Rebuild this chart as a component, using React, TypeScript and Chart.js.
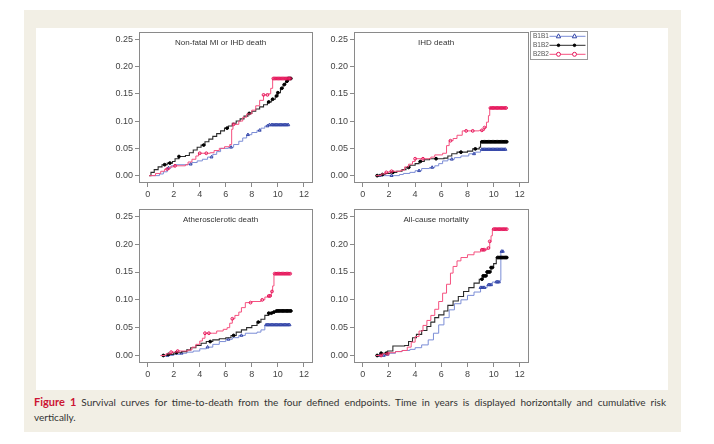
import React, { useEffect, useRef } from "react";
import { Chart, registerables } from "chart.js";
Chart.register(...registerables);

type Pt = [number, number];

const xTicks = [0, 2, 4, 6, 8, 10, 12];
const yTicks = [0, 0.05, 0.1, 0.15, 0.2, 0.25];
const yTickLabels = ["0.00", "0.05", "0.10", "0.15", "0.20", "0.25"];
const seriesNames = ["B1B1", "B1B2", "B2B2"];
const panelTitles = ["Non-fatal MI or IHD death", "IHD death", "Atherosclerotic death", "All-cause mortality"];
const captionLabel = "Figure 1";
const captionText = "Survival curves for time-to-death from the four defined endpoints. Time in years is displayed horizontally and cumulative risk";
const captionText2 = "vertically.";

// Panel 1: Non-fatal MI or IHD death
const nonFatalB1B1: Pt[] = [[0.3, 0], [0.9, 0.003], [1.2, 0.007], [1.5, 0.014], [1.8, 0.018], [2.1, 0.02], [3.1, 0.021], [3.4, 0.024], [3.8, 0.027], [4.2, 0.03], [4.6, 0.034], [5.0, 0.039], [5.3, 0.044], [5.6, 0.05], [6.2, 0.052], [6.6, 0.057], [7.0, 0.063], [7.3, 0.069], [7.6, 0.075], [8.0, 0.079], [8.4, 0.083], [8.7, 0.087], [9.0, 0.091], [9.3, 0.093], [10.9, 0.093]];
const nonFatalB1B2: Pt[] = [[0.1, 0], [0.25, 0.006], [0.5, 0.011], [0.8, 0.016], [1.1, 0.02], [1.5, 0.023], [1.9, 0.026], [2.1, 0.031], [2.4, 0.035], [2.9, 0.037], [3.2, 0.042], [3.5, 0.047], [3.8, 0.052], [4.1, 0.056], [4.4, 0.062], [4.7, 0.067], [5.0, 0.072], [5.3, 0.077], [5.6, 0.082], [5.9, 0.087], [6.2, 0.091], [6.5, 0.096], [6.8, 0.1], [7.1, 0.104], [7.4, 0.109], [7.7, 0.114], [8.0, 0.118], [8.3, 0.122], [8.6, 0.126], [8.9, 0.13], [9.2, 0.135], [9.5, 0.14], [9.8, 0.146], [10.0, 0.152], [10.2, 0.16], [10.4, 0.167], [10.6, 0.173], [10.8, 0.178], [11.0, 0.178]];
const nonFatalB2B2: Pt[] = [[0.1, 0], [0.6, 0.004], [1.0, 0.008], [1.3, 0.012], [1.7, 0.016], [2.0, 0.018], [2.9, 0.02], [3.1, 0.025], [3.4, 0.03], [3.7, 0.036], [3.9, 0.041], [4.8, 0.042], [5.1, 0.046], [5.5, 0.05], [5.9, 0.053], [6.3, 0.057], [6.45, 0.085], [6.55, 0.094], [7.0, 0.1], [7.3, 0.107], [7.6, 0.113], [8.0, 0.12], [8.3, 0.128], [8.6, 0.138], [8.9, 0.148], [9.3, 0.15], [9.45, 0.16], [9.6, 0.178], [11.0, 0.178]];
const nonFatalB1B1Censor = [1.6, 3.3, 4.9, 6.4, 7.7, 8.6, 9.2, 9.35, 9.5, 9.6, 9.7, 9.8, 9.9, 10.0, 10.1, 10.2, 10.3, 10.4, 10.5, 10.6, 10.7, 10.8];
const nonFatalB1B2Censor = [1.3, 1.7, 2.4, 4.3, 6.1, 7.8, 9.3, 9.6, 9.9, 10.0, 10.3, 10.5, 10.7, 10.8, 10.9, 11.0];
const nonFatalB2B2Censor = [1.5, 2.1, 4.0, 4.5, 6.6, 8.9, 9.2, 9.65, 9.75, 9.85, 9.95, 10.05, 10.15, 10.25, 10.35, 10.45, 10.55, 10.65, 10.75, 10.85, 10.95];

// Panel 2: IHD death
const ihdB1B1: Pt[] = [[1.2, 0], [2.8, 0.002], [3.1, 0.004], [3.6, 0.006], [4.0, 0.009], [4.5, 0.013], [5.1, 0.015], [5.5, 0.018], [5.8, 0.022], [6.1, 0.027], [6.5, 0.03], [7.0, 0.033], [7.5, 0.036], [8.1, 0.04], [8.6, 0.043], [9.0, 0.048], [10.9, 0.048]];
const ihdB1B2: Pt[] = [[1.0, 0], [1.3, 0.002], [1.7, 0.004], [2.1, 0.006], [2.6, 0.008], [3.0, 0.011], [3.3, 0.015], [3.6, 0.019], [4.0, 0.022], [4.3, 0.026], [4.7, 0.029], [5.1, 0.031], [6.2, 0.032], [6.5, 0.036], [6.8, 0.04], [7.2, 0.043], [8.0, 0.045], [8.4, 0.049], [8.9, 0.052], [9.0, 0.062], [11.0, 0.062]];
const ihdB2B2: Pt[] = [[1.0, 0], [1.4, 0.003], [1.7, 0.006], [2.0, 0.008], [2.9, 0.01], [3.2, 0.016], [3.5, 0.021], [3.8, 0.026], [4.0, 0.031], [5.2, 0.034], [5.5, 0.038], [6.1, 0.041], [6.4, 0.055], [6.6, 0.064], [6.9, 0.068], [7.2, 0.074], [7.6, 0.082], [8.9, 0.083], [9.3, 0.088], [9.45, 0.098], [9.6, 0.11], [9.7, 0.124], [11.0, 0.124]];
const ihdB1B1Censor = [1.3, 2.2, 4.3, 5.3, 6.8, 8.5, 9.1, 9.2, 9.3, 9.4, 9.5, 9.6, 9.7, 9.8, 9.9, 10.0, 10.1, 10.2, 10.3, 10.4, 10.5, 10.6, 10.7, 10.8, 10.9];
const ihdB1B2Censor = [1.1, 1.5, 2.3, 3.5, 4.4, 5.6, 7.5, 8.6, 9.1, 9.2, 9.3, 9.4, 9.5, 9.6, 9.7, 9.8, 9.9, 10.0, 10.1, 10.2, 10.3, 10.4, 10.5, 10.6, 10.7, 10.8, 10.9, 11.0];
const ihdB2B2Censor = [1.8, 2.2, 4.0, 4.6, 6.7, 7.9, 8.4, 9.1, 9.3, 9.75, 9.85, 9.95, 10.05, 10.15, 10.25, 10.35, 10.45, 10.55, 10.65, 10.75, 10.85, 10.95];

// Panel 3: Atherosclerotic death
const athB1B1: Pt[] = [[1.2, 0], [2.0, 0.002], [2.5, 0.004], [3.0, 0.006], [3.5, 0.008], [4.0, 0.012], [4.5, 0.015], [5.0, 0.02], [5.5, 0.025], [6.0, 0.029], [6.5, 0.032], [7.0, 0.036], [7.5, 0.04], [8.4, 0.042], [8.7, 0.046], [9.0, 0.055], [10.9, 0.055]];
const athB1B2: Pt[] = [[1.0, 0], [1.5, 0.002], [2.0, 0.005], [2.6, 0.007], [3.0, 0.01], [3.3, 0.014], [3.7, 0.018], [4.1, 0.022], [4.5, 0.025], [5.0, 0.028], [5.5, 0.03], [6.0, 0.032], [6.4, 0.036], [6.8, 0.042], [7.2, 0.046], [7.6, 0.05], [8.0, 0.054], [8.4, 0.06], [8.7, 0.065], [9.0, 0.072], [9.3, 0.076], [9.6, 0.078], [9.9, 0.08], [11.0, 0.08]];
const athB2B2: Pt[] = [[1.0, 0], [1.4, 0.003], [1.8, 0.006], [2.2, 0.008], [3.1, 0.01], [3.4, 0.015], [3.7, 0.02], [4.0, 0.026], [4.2, 0.031], [4.4, 0.04], [5.0, 0.04], [5.3, 0.044], [5.8, 0.047], [6.1, 0.05], [6.3, 0.058], [6.5, 0.066], [6.7, 0.072], [7.0, 0.078], [7.2, 0.086], [7.5, 0.095], [8.0, 0.097], [8.7, 0.1], [9.0, 0.105], [9.3, 0.107], [9.5, 0.115], [9.6, 0.125], [9.7, 0.147], [11.0, 0.147]];
const athB1B1Censor = [1.5, 2.6, 4.6, 6.2, 7.2, 9.1, 9.2, 9.3, 9.4, 9.5, 9.6, 9.7, 9.8, 9.9, 10.0, 10.1, 10.2, 10.3, 10.4, 10.5, 10.6, 10.7, 10.8, 10.9];
const athB1B2Censor = [1.2, 1.6, 2.2, 4.8, 6.6, 8.5, 9.3, 9.5, 9.7, 9.9, 10.0, 10.1, 10.2, 10.3, 10.4, 10.5, 10.6, 10.7, 10.8, 10.9, 11.0];
const athB2B2Censor = [1.8, 2.3, 4.4, 4.7, 6.5, 7.9, 8.8, 9.3, 9.4, 9.55, 9.75, 9.85, 9.95, 10.05, 10.15, 10.25, 10.35, 10.45, 10.55, 10.65, 10.75, 10.85, 10.95];

// Panel 4: All-cause mortality
const allB1B1: Pt[] = [[1.2, 0], [2.0, 0.004], [2.5, 0.007], [3.0, 0.009], [3.6, 0.011], [4.0, 0.014], [4.5, 0.019], [5.0, 0.028], [5.4, 0.04], [5.8, 0.055], [6.2, 0.068], [6.6, 0.082], [7.0, 0.093], [7.5, 0.1], [8.0, 0.108], [8.5, 0.114], [9.0, 0.122], [9.5, 0.127], [9.9, 0.132], [10.5, 0.135], [10.55, 0.187], [10.8, 0.187]];
const allB1B2: Pt[] = [[1.0, 0], [1.4, 0.004], [1.9, 0.008], [2.3, 0.017], [3.2, 0.018], [3.5, 0.025], [3.8, 0.032], [4.1, 0.038], [4.5, 0.045], [4.9, 0.052], [5.2, 0.06], [5.5, 0.068], [5.8, 0.073], [6.2, 0.08], [6.5, 0.09], [6.9, 0.098], [7.3, 0.106], [7.7, 0.115], [8.1, 0.122], [8.5, 0.13], [8.9, 0.137], [9.2, 0.143], [9.5, 0.15], [9.8, 0.158], [10.0, 0.165], [10.2, 0.176], [11.0, 0.176]];
const allB2B2: Pt[] = [[1.0, 0], [1.5, 0.003], [2.0, 0.005], [2.5, 0.007], [3.0, 0.009], [3.4, 0.015], [3.7, 0.024], [4.0, 0.034], [4.3, 0.044], [4.6, 0.054], [4.9, 0.063], [5.2, 0.072], [5.5, 0.083], [5.8, 0.097], [6.1, 0.112], [6.4, 0.128], [6.7, 0.148], [6.9, 0.16], [7.2, 0.17], [7.5, 0.176], [8.0, 0.181], [8.5, 0.186], [9.0, 0.19], [9.5, 0.193], [9.7, 0.205], [9.8, 0.215], [9.9, 0.227], [11.0, 0.227]];
const allB1B1Censor = [1.3, 1.6, 9.0, 9.1, 9.2, 9.3, 9.6, 9.7, 9.8, 10.2, 10.3, 10.4, 10.6, 10.7];
const allB1B2Censor = [1.1, 1.4, 1.8, 9.1, 9.2, 9.3, 9.4, 9.5, 9.6, 9.7, 9.8, 9.9, 10.3, 10.4, 10.5, 10.6, 10.7, 10.8, 10.9, 11.0];
const allB2B2Censor = [1.4, 1.9, 9.1, 9.2, 9.3, 9.6, 9.7, 10.0, 10.1, 10.2, 10.3, 10.4, 10.5, 10.6, 10.7, 10.8, 10.9, 11.0];

const LINE_COLORS = ["#7b8dd6", "#2b2b2b", "#f5517f"];
const MARK_COLORS = ["#3446a8", "#000000", "#e5165b"];
const MARK_FILLS = ["rgba(0,0,0,0)", "#000000", "rgba(0,0,0,0)"];
const MARK_STYLES = ["triangle", "circle", "circle"];
const FONT = "'Liberation Sans', Arial, Helvetica, sans-serif";
const FRAME_COLOR = "#8a8a8a";
const TEXT_COLOR = "#444";

const X_MIN = -0.67, X_MAX = 12.7, Y_MIN = -0.0135, Y_MAX = 0.2625;

function buildPoints(steps: Pt[], censor: number[]) {
  const pts = steps.map(([x, y]) => ({ x, y, c: false }));
  censor.forEach((ct) => {
    let y = 0;
    for (const [t, v] of steps) if (t <= ct) y = v;
    pts.push({ x: ct, y, c: true });
  });
  pts.sort((a, b) => a.x - b.x || (a.c === b.c ? 0 : a.c ? 1 : -1));
  return pts;
}

const framePlugin = {
  id: "framePlugin",
  afterDraw(chart: any, _a: any, opts: any) {
    const { ctx, chartArea: ca, scales } = chart;
    ctx.save();
    ctx.strokeStyle = FRAME_COLOR;
    ctx.lineWidth = 1;
    ctx.strokeRect(Math.round(ca.left) + 0.5, Math.round(ca.top) + 0.5, Math.round(ca.width) - 1, Math.round(ca.height) - 1);
    if (opts && opts.title) {
      ctx.fillStyle = "#333";
      ctx.font = `8px ${FONT}`;
      ctx.textAlign = "center";
      ctx.textBaseline = "middle";
      ctx.fillText(opts.title, scales.x.getPixelForValue(5.6), scales.y.getPixelForValue(0.243));
    }
    if (opts && opts.legend) {
      const lx = Math.round(ca.right) + 1.5;
      const ly = Math.round(ca.top) - 0.5;
      const lw = 57, lh = 28;
      ctx.strokeStyle = "#9a9a9a";
      ctx.strokeRect(lx, ly, lw, lh);
      seriesNames.forEach((name, i) => {
        const cy = ly + 4.8 + i * 9;
        ctx.fillStyle = "#555";
        ctx.font = `6.5px ${FONT}`;
        ctx.textAlign = "left";
        ctx.textBaseline = "middle";
        ctx.fillText(name, lx + 2.5, cy);
        ctx.strokeStyle = LINE_COLORS[i];
        ctx.lineWidth = 1;
        ctx.beginPath();
        ctx.moveTo(lx + 19, cy);
        ctx.lineTo(lx + 55, cy);
        ctx.stroke();
        [lx + 28, lx + 44].forEach((mx) => {
          ctx.strokeStyle = MARK_COLORS[i];
          ctx.fillStyle = MARK_FILLS[i] === "rgba(0,0,0,0)" ? "#ffffff" : MARK_FILLS[i];
          ctx.beginPath();
          if (MARK_STYLES[i] === "triangle") {
            ctx.moveTo(mx, cy - 2.5);
            ctx.lineTo(mx + 2.2, cy + 1.5);
            ctx.lineTo(mx - 2.2, cy + 1.5);
            ctx.closePath();
          } else {
            ctx.arc(mx, cy, i === 1 ? 1.3 : 2, 0, Math.PI * 2);
          }
          ctx.fill();
          ctx.stroke();
        });
      });
    }
    ctx.restore();
  },
};

type PanelProps = {
  left: number; top: number; width: number; height: number;
  title: string; series: Pt[][]; censors: number[][]; legend?: boolean;
};

const PAD_L = 45, PAD_T = 6, PAD_B = 22;

function Panel({ left, top, width, height, title, series, censors, legend }: PanelProps) {
  const ref = useRef<HTMLCanvasElement>(null);
  const padR = legend ? 68 : 6;
  const cw = PAD_L + width + padR;
  const ch = PAD_T + height + PAD_B;
  useEffect(() => {
    const datasets = series.map((s, i) => ({
      label: seriesNames[i],
      data: buildPoints(s, censors[i]),
      borderColor: LINE_COLORS[i],
      borderWidth: i === 1 ? 1.1 : 1,
      stepped: "before" as const,
      fill: false,
      order: 2 - i,
      pointStyle: MARK_STYLES[i],
      pointRadius: (c: any) => (c.raw && c.raw.c ? (i === 0 ? 1.7 : 1.4) : 0),
      pointHoverRadius: 0,
      pointBorderColor: MARK_COLORS[i],
      pointBackgroundColor: MARK_FILLS[i],
      pointBorderWidth: 1,
    }));
    const chart = new Chart(ref.current as HTMLCanvasElement, {
      type: "line",
      data: { datasets } as any,
      options: {
        animation: false,
        responsive: false,
        maintainAspectRatio: false,
        parsing: false as any,
        normalized: true,
        layout: { padding: { left: 5, top: PAD_T, right: padR, bottom: 2 } },
        plugins: {
          legend: { display: false },
          tooltip: { enabled: false },
          framePlugin: { title, legend: !!legend },
        } as any,
        scales: {
          x: {
            type: "linear",
            min: X_MIN,
            max: X_MAX,
            afterBuildTicks: (sc: any) => { sc.ticks = xTicks.map((v) => ({ value: v })); },
            afterFit: (sc: any) => { sc.height = 20; },
            border: { display: false },
            grid: { drawOnChartArea: false, drawTicks: true, tickLength: 4, color: FRAME_COLOR, tickColor: FRAME_COLOR },
            ticks: { font: { size: 9, family: FONT }, color: TEXT_COLOR, padding: 2, maxRotation: 0, autoSkip: false, callback: (v: any) => String(v) },
          },
          y: {
            type: "linear",
            min: Y_MIN,
            max: Y_MAX,
            afterBuildTicks: (sc: any) => { sc.ticks = yTicks.map((v) => ({ value: v })); },
            afterFit: (sc: any) => { sc.width = 40; },
            border: { display: false },
            grid: { drawOnChartArea: false, drawTicks: true, tickLength: 4, color: FRAME_COLOR, tickColor: FRAME_COLOR },
            ticks: { font: { size: 9, family: FONT }, color: TEXT_COLOR, padding: 2, autoSkip: false, callback: (_v: any, idx: number) => yTickLabels[idx] },
          },
        },
      } as any,
      plugins: [framePlugin as any],
    });
    return () => chart.destroy();
  }, []);
  return (
    <canvas
      ref={ref}
      width={cw}
      height={ch}
      style={{ position: "absolute", left: left - PAD_L, top: top - PAD_T, width: cw, height: ch }}
    />
  );
}

export default function App() {
  return (
    <div style={{ position: "fixed", left: 0, top: 0, width: 714, height: 444, background: "#ffffff", overflow: "hidden" }}>
      <div style={{ position: "absolute", left: 24, top: 10, width: 657, height: 422, background: "#f2efe5" }} />
      <div style={{ position: "absolute", left: 36, top: 28, width: 632, height: 362, background: "#ffffff" }} />
      <Panel left={139} top={31} width={174} height={152} title={panelTitles[0]}
        series={[nonFatalB1B1, nonFatalB1B2, nonFatalB2B2]} censors={[nonFatalB1B1Censor, nonFatalB1B2Censor, nonFatalB2B2Censor]} />
      <Panel left={354} top={31} width={175} height={152} title={panelTitles[1]} legend
        series={[ihdB1B1, ihdB1B2, ihdB2B2]} censors={[ihdB1B1Censor, ihdB1B2Censor, ihdB2B2Censor]} />
      <Panel left={139} top={208} width={174} height={155} title={panelTitles[2]}
        series={[athB1B1, athB1B2, athB2B2]} censors={[athB1B1Censor, athB1B2Censor, athB2B2Censor]} />
      <Panel left={354} top={208} width={175} height={155} title={panelTitles[3]}
        series={[allB1B1, allB1B2, allB2B2]} censors={[allB1B1Censor, allB1B2Censor, allB2B2Censor]} />
      <div style={{ position: "absolute", left: 34, top: 394, width: 632, fontFamily: "Lato, 'Open Sans', sans-serif", fontSize: 10, lineHeight: "15px", color: "#333" }}>
        <div style={{ whiteSpace: "nowrap", textAlign: "justify", textAlignLast: "justify" as any }}>
          <span style={{ color: "#cc1433", fontWeight: 700, fontSize: 11 }}>{captionLabel}</span>{"  "}{captionText}
        </div>
        <div>{captionText2}</div>
      </div>
    </div>
  );
}
